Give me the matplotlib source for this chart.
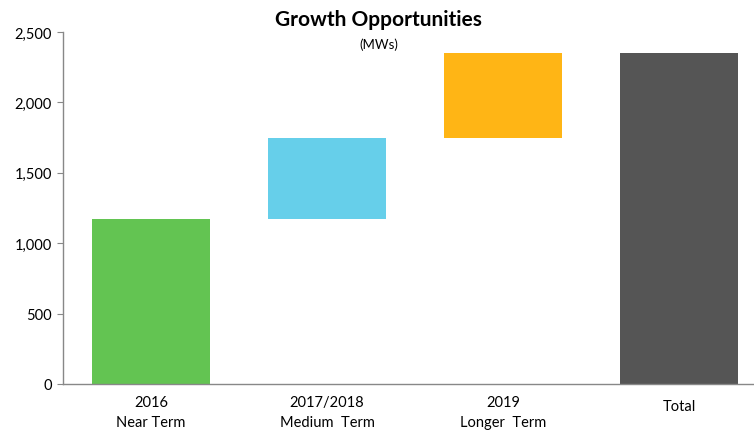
import matplotlib.pyplot as plt
from matplotlib.ticker import FuncFormatter
import matplotlib.transforms as mtransforms

categories = ["2016\nNear Term", "2017/2018\nMedium  Term", "2019\nLonger  Term", "Total"]
bar_tops = [1175, 1750, 2350, 2350]
bar_bottoms = [0, 1175, 1750, 0]
colors = ["#63C452", "#66CFEA", "#FFB515", "#555555"]

plt.rcParams['font.family'] = ['Lato', 'DejaVu Sans']

fig = plt.figure(figsize=(7.54, 4.31), dpi=100)
ax = fig.add_axes([63 / 754, 46 / 431, 691 / 754, 352 / 431])

x = list(range(len(categories)))
heights = [t - b for t, b in zip(bar_tops, bar_bottoms)]
ax.bar(x, heights, bottom=bar_bottoms, width=0.67, color=colors)

ax.set_xlim(-0.5, -0.5 + 691 / 176)
ax.set_ylim(0, 2500)
ax.set_yticks(range(0, 2501, 500))
ax.yaxis.set_major_formatter(FuncFormatter(lambda v, p: f"{int(v):,}"))
ax.set_xticks(x)
ax.set_xticklabels(categories, fontsize=10.5, linespacing=1.5)
ax.tick_params(axis='x', length=0, pad=8)
ax.tick_params(axis='y', length=4, color="#888888", labelsize=10.5, pad=4)

# "Total" sits a bit lower than the first line of the others
lbl = ax.get_xticklabels()[-1]
lbl.set_transform(lbl.get_transform() + mtransforms.ScaledTranslation(0, -4 / 100, fig.dpi_scale_trans))

for s in ["top", "right"]:
    ax.spines[s].set_visible(False)
for s in ["left", "bottom"]:
    ax.spines[s].set_color("#888888")
    ax.spines[s].set_linewidth(1)

fig.text(0.502, 0.953, "Growth Opportunities", ha="center", va="center",
         fontsize=15, fontweight="bold")
fig.text(0.502, 0.897, "(MWs)", ha="center", va="center", fontsize=9.5)

fig.savefig("out.png", dpi=100)
